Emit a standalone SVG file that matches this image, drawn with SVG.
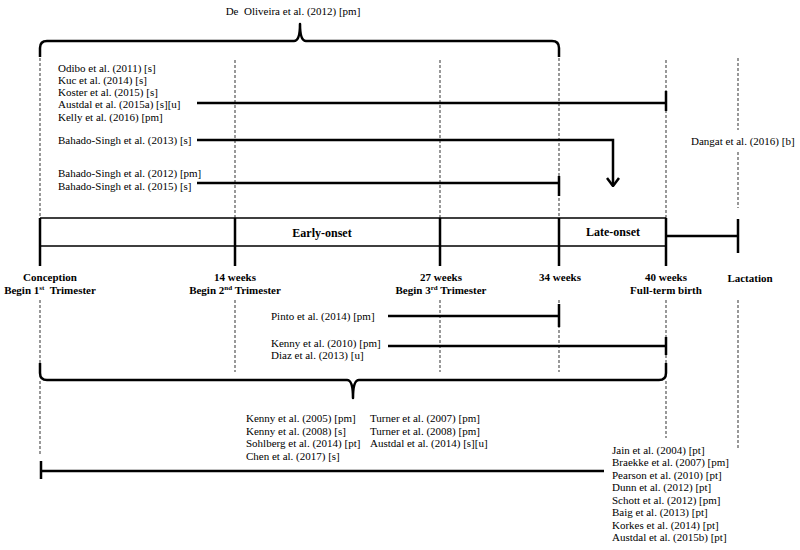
<svg xmlns="http://www.w3.org/2000/svg" width="800" height="550" viewBox="0 0 800 550" font-family="'Liberation Serif', 'Times New Roman', serif">
<style>
text{font-family:"Liberation Serif","Times New Roman",serif;font-size:11px;fill:#000}
.ax{font-weight:bold;text-anchor:middle}
.on{font-weight:bold;font-size:12px;text-anchor:middle}
.sup{font-size:7px}
.d{stroke:#555;stroke-width:1.2;stroke-dasharray:3,2;fill:none}
.t{stroke:#000;stroke-width:2.5;fill:none}
.bx{stroke:#000;stroke-width:1.5;fill:none}
.br{stroke:#000;stroke-width:2.5;fill:none;stroke-linejoin:round}
</style>
<defs>
<marker id="ah" viewBox="0 0 10 14" refX="9" refY="7" markerWidth="10" markerHeight="14" markerUnits="userSpaceOnUse" orient="auto">
<path d="M1,1 L9,7 L1,13" fill="none" stroke="#000" stroke-width="2.5"/>
</marker>
</defs>
<g id="guides">
<path class="d" d="M40,58V218M235,60V218M440,60V218M559,58V218M666,60V218M738,58V130M738,152V208"/>
<path class="d" d="M40,300V363M40,381V455M235,300V372M440,300V372M559,300V372M666,300V363M666,381V438M738,300V448"/>
</g>
<g id="timeline">
<path class="bx" d="M40,218H666M40,246H666"/>
<path class="t" d="M40,218V266M235,218V266M440,218V266M559,218V266M666,218V266"/>
<path class="t" d="M666,236H738M738,219V253"/>
<text class="on" x="322" y="237">Early-onset</text>
<text class="on" x="613" y="236">Late-onset</text>
</g>
<g id="axis-labels">
<text class="ax" x="50" y="281">Conception</text>
<text class="ax" x="50" y="294">Begin 1<tspan class="sup" dy="-4">st</tspan><tspan dy="4" xml:space="preserve">  Trimester</tspan></text>
<text class="ax" x="235" y="281">14 weeks</text>
<text class="ax" x="235" y="294">Begin 2<tspan class="sup" dy="-4">nd</tspan><tspan dy="4"> Trimester</tspan></text>
<text class="ax" x="441" y="281">27 weeks</text>
<text class="ax" x="441" y="294">Begin 3<tspan class="sup" dy="-4">rd</tspan><tspan dy="4"> Trimester</tspan></text>
<text class="ax" x="560" y="281">34 weeks</text>
<text class="ax" x="666" y="281">40 weeks</text>
<text class="ax" x="666" y="294">Full-term birth</text>
<text class="ax" x="750" y="282">Lactation</text>
</g>
<g id="top-brace">
<path class="br" d="M40,57V48Q40,41 47,41H294Q300,41 300,24Q300,41 306,41H552Q559,41 559,48V57"/>
<text x="293" y="15" text-anchor="middle" xml:space="preserve">De  Oliveira et al. (2012) [pm]</text>
</g>
<g id="group-a">
<text x="58" y="72">Odibo et al. (2011) [s]</text>
<text x="58" y="84">Kuc et al. (2014) [s]</text>
<text x="58" y="96">Koster et al. (2015) [s]</text>
<text x="58" y="108">Austdal et al. (2015a) [s][u]</text>
<text x="58" y="121">Kelly et al. (2016) [pm]</text>
</g>
<g id="group-b">
<text x="58" y="144">Bahado-Singh et al. (2013) [s]</text>
</g>
<g id="group-c">
<text x="58" y="177">Bahado-Singh et al. (2012) [pm]</text>
<text x="58" y="190">Bahado-Singh et al. (2015) [s]</text>
</g>
<g id="group-d">
<text x="691" y="145">Dangat et al. (2016) [b]</text>
</g>
<g id="group-e">
<text x="271" y="320">Pinto et al. (2014) [pm]</text>
</g>
<g id="group-f">
<text x="271" y="347">Kenny et al. (2010) [pm]</text>
<text x="271" y="359">Diaz et al. (2013) [u]</text>
</g>
<g id="bottom-brace">
<path class="br" d="M40,363V373Q40,380 47,380H347Q353,380 353,398Q353,380 359,380H659Q666,380 666,373V363"/>
</g>
<g id="group-g">
<text x="246" y="422">Kenny et al. (2005) [pm]</text>
<text x="246" y="435">Kenny et al. (2008) [s]</text>
<text x="246" y="447">Sohlberg et al. (2014) [pt]</text>
<text x="246" y="460">Chen et al. (2017) [s]</text>
<text x="370" y="422">Turner et al. (2007) [pm]</text>
<text x="370" y="435">Turner et al. (2008) [pm]</text>
<text x="370" y="447">Austdal et al. (2014) [s][u]</text>
</g>
<g id="group-h">
<text x="612" y="454">Jain et al. (2004) [pt]</text>
<text x="612" y="466">Braekke et al. (2007) [pm]</text>
<text x="612" y="479">Pearson et al. (2010) [pt]</text>
<text x="612" y="491">Dunn et al. (2012) [pt]</text>
<text x="612" y="504">Schott et al. (2012) [pm]</text>
<text x="612" y="516">Baig et al. (2013) [pt]</text>
<text x="612" y="529">Korkes et al. (2014) [pt]</text>
<text x="612" y="541">Austdal et al. (2015b) [pt]</text>
</g>
<g id="connectors">
<path class="t" d="M197,103H666M666,91V111"/>
<path class="t" d="M197,140H613V186" marker-end="url(#ah)"/>
<path class="t" d="M197,183H559M559,176V196"/>
<path class="t" d="M388,316H559M559,304V327"/>
<path class="t" d="M388,346H666M666,337V355"/>
<path class="t" d="M41,471H604M41,461V479"/>
</g>
</svg>
